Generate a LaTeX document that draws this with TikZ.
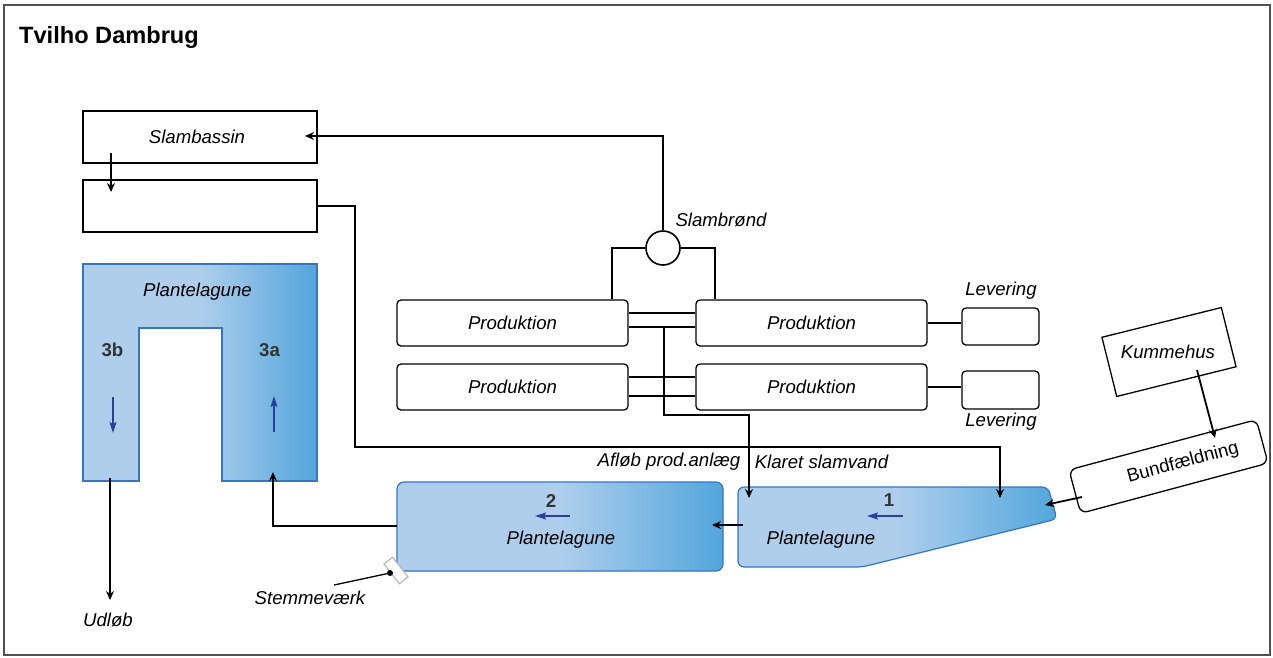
\documentclass[tikz,border=0pt]{standalone}
\usepackage{fontspec}
\setmainfont{Liberation Sans}
\usetikzlibrary{arrows.meta,calc}
\definecolor{lagL}{RGB}{174,206,236}
\definecolor{lagD}{RGB}{82,166,220}
\definecolor{lagB}{RGB}{52,118,192}
\definecolor{flow}{RGB}{40,64,156}
\definecolor{numc}{RGB}{51,51,51}
\definecolor{frame}{RGB}{80,80,80}
\begin{document}
\begin{tikzpicture}[x=1pt,y=1pt,
  txt/.style={font=\fontsize{18.6}{22}\selectfont\itshape,inner sep=0pt},
  plain/.style={font=\fontsize{18.6}{22}\selectfont,inner sep=0pt},
  box/.style={draw=black,line width=1.3pt,inner sep=0pt,fill=white},
  rbox/.style={box,rounded corners=4pt},
  conn/.style={line width=1.8pt},
  tip/.style={-{Stealth[length=9pt,width=8pt]}},
  lagoon/.style={draw=lagB,line width=1.2pt,left color=lagL,right color=lagD,middle color=lagL},
  num/.style={font=\fontsize{18.6}{22}\selectfont\bfseries,text=numc,inner sep=0pt},
  flowar/.style={draw=flow,line width=1.5pt,-{Stealth[length=11pt,width=7pt,inset=2pt]}},
]
\useasboundingbox (0,0) rectangle (1273,-657);
\draw[frame,line width=1.2pt] (4,-5) rectangle (1270,-655);
\node[anchor=west,font=\fontsize{23.6}{28}\selectfont\bfseries,inner sep=0pt] (title) at (19,-37) {Tvilho Dambrug};

% upper left boxes
\node[box,minimum width=234pt,minimum height=52pt] (slam) at (200,-137) {};
\node[txt] (slamtxt) at (197,-137) {Slambassin};
\node[box,minimum width=234pt,minimum height=52pt] (box2) at (200,-206) {};

% Slambroend
\node[draw,circle,line width=1.6pt,minimum size=34pt,inner sep=0pt] (brond) at (663,-248) {};
\node[txt] (brondtxt) at (721,-220) {Slambrønd};

% production
\node[rbox,minimum width=231pt,minimum height=46pt] (p1) at (512.5,-323) {};
\node[txt] at (p1) {Produktion};
\node[rbox,minimum width=231pt,minimum height=46pt] (p2) at (811.5,-323) {};
\node[txt] at (p2) {Produktion};
\node[rbox,minimum width=231pt,minimum height=46pt] (p3) at (512.5,-387) {};
\node[txt] at (p3) {Produktion};
\node[rbox,minimum width=231pt,minimum height=46pt] (p4) at (811.5,-387) {};
\node[txt] at (p4) {Produktion};
\node[rbox,minimum width=77pt,minimum height=37pt] (lev1) at (1000.5,-326.5) {};
\node[rbox,minimum width=77pt,minimum height=38pt] (lev2) at (1000.5,-390) {};
\node[txt] (levtxt1) at (1001,-291) {Levering};
\node[txt] (levtxt2) at (1001,-422) {Levering};

% lagoons
\draw[lagoon,rounded corners=6pt] (862,-567) -- (738,-567) -- (738,-487) -- (1048,-487) -- (1057,-519) -- cycle;
\draw[lagoon,rounded corners=7pt] (397,-482) rectangle (723,-571);
\draw[lagoon] (83,-264) -- (317,-264) -- (317,-481) -- (222,-481) -- (222,-328) -- (139,-328) -- (139,-481) -- (83,-481) -- cycle;

\node[txt] (l1txt) at (821,-540) {Plantelagune};
\node[txt] (l2txt) at (561,-540) {Plantelagune};
\node[txt] (l3txt) at (197.5,-292) {Plantelagune};
\node[num] (n1) at (889,-500) {1};
\node[num] (n2) at (551,-501) {2};
\node[num] (n3b) at (112.5,-350) {3b};
\node[num] (n3a) at (269.5,-350) {3a};
\draw[flowar] (903,-516) -- (867,-516);
\draw[flowar] (570,-516) -- (535,-516);
\draw[flowar] (113,-397) -- (113,-433);
\draw[flowar] (274,-432) -- (274,-396);

% labels
\node[txt] (afl) at (669,-462) {Afløb prod.anlæg};
\node[txt] (klar) at (821.5,-462) {Klaret slamvand};
\node[txt] (udl) at (108,-620) {Udløb};
\node[txt] (stemtxt) at (310,-598) {Stemmeværk};

% Kummehus & Bundfaeldning
\node[box,minimum width=123pt,minimum height=61pt,rotate=14] (kum) at (1169,-352) {};
\node[txt] (kumtxt) at (1168,-352) {Kummehus};
\node[box,rounded corners=7pt,minimum width=194pt,minimum height=45pt,rotate=15] (bund) at (1168.5,-466.5) {};
\node[plain,rotate=15] (bundtxt) at (1183,-463) {Bundfældning};

% connectors
\coordinate (slamin) at (305,-136);
\draw[conn,tip] (brond.north) |- (slamin);
\coordinate (s1) at (111,-153);
\coordinate (s2) at (111,-192);
\draw[conn,tip] (s1) -- (s2);
\coordinate (b2a) at (355,-206);
\coordinate (b2b) at (1000,-447);
\coordinate (l1in2) at (1000,-498);
\draw[conn,tip] (box2.east) -- (b2a) |- (b2b) -- (l1in2);
\draw[conn] (brond.west) -| ($(p1.north east)+(-17,0)$);
\draw[conn] (brond.east) -| ($(p2.north west)+(20,0)$);
\draw[conn] ($(p1.east)+(0,10)$) -- ($(p2.west)+(0,10)$);
\draw[conn] ($(p1.east)+(0,-4)$) -- ($(p2.west)+(0,-4)$);
\draw[conn] ($(p3.east)+(0,10)$) -- ($(p4.west)+(0,10)$);
\draw[conn] ($(p3.east)+(0,-9)$) -- ($(p4.west)+(0,-9)$);
\coordinate (v1) at (664,-327);
\coordinate (v2) at (664,-415);
\coordinate (l1in1) at (749,-498);
\draw[conn,tip] (v1) -- (v2) -| (l1in1);
\draw[conn] (p2.east) -- (p2.east -| lev1.west);
\draw[conn] (p4.east) -- (p4.east -| lev2.west);
\coordinate (l1out) at (743,-525);
\coordinate (l2in) at (712,-525);
\draw[conn,tip] (l1out) -- (l2in);
\coordinate (l2out) at (397,-526);
\coordinate (l3in) at (273,-472);
\draw[conn,tip] (l2out) -| (l3in);
\coordinate (l3out) at (110,-478);
\coordinate (udlin) at (110,-600);
\draw[conn,tip] (l3out) -- (udlin);
\coordinate (kumout) at (1197,-370);
\coordinate (bundin) at (1215,-438);
\draw[conn,tip] (kumout) -- (bundin);
\coordinate (bundout) at (1082,-497);
\coordinate (l1in3) at (1045,-505);
\draw[conn,tip] (bundout) -- (l1in3);

% Stemmevaerk
\node[draw=gray!55,fill=white,line width=1.2pt,minimum width=25pt,minimum height=11pt,inner sep=0pt,rotate=-52] (stem) at (396,-570.5) {};
\node[fill=black,circle,inner sep=0pt,minimum size=6pt] (dot) at (390,-573) {};
\draw[line width=1.3pt] (dot) -- (334,-585);
\end{tikzpicture}
\end{document}
